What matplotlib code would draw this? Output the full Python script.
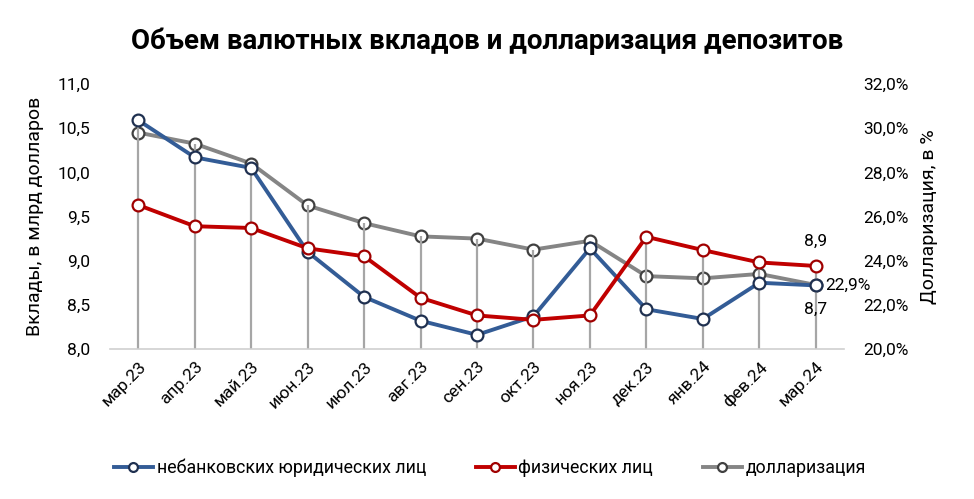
import numpy as np
import matplotlib.pyplot as plt
from matplotlib.ticker import FuncFormatter

plt.rcParams['font.family'] = ['Roboto', 'DejaVu Sans']

months = ['мар.23', 'апр.23', 'май.23', 'июн.23', 'июл.23', 'авг.23', 'сен.23',
          'окт.23', 'ноя.23', 'дек.23', 'янв.24', 'фев.24', 'мар.24']
legal = [10.59, 10.17, 10.05, 9.10, 8.59, 8.32, 8.16, 8.37, 9.14, 8.45, 8.34, 8.75, 8.72]
individ = [9.63, 9.39, 9.37, 9.14, 9.05, 8.58, 8.38, 8.33, 8.38, 9.27, 9.12, 8.98, 8.94]
dollar = [29.8, 29.3, 28.4, 26.5, 25.7, 25.1, 25.0, 24.5, 24.9, 23.3, 23.2, 23.4, 22.9]

colorLegal = '#335C96'
colorIndivid = '#C00000'
colorDollar = '#858585'

fig = plt.figure(figsize=(9.74, 4.99), dpi=100)
ax = fig.add_axes([110/974, 1-349/499, (844-110)/974, (349-84)/499])
ax2 = ax.twinx()

x = np.arange(len(months))
ax.set_xlim(-0.5, len(months) - 0.5)
ax.set_ylim(8.0, 11.0)
ax2.set_ylim(20.0, 32.0)

# drop lines from the top point of every month down to the axis
dollarOnLeft = [8.0 + (d - 20.0) / 12.0 * 3.0 for d in dollar]
tops = [max(a, b, c) for a, b, c in zip(legal, individ, dollarOnLeft)]
ax.vlines(x, 8.0, tops, color='#A6A6A6', lw=1.6, zorder=1)

mk = dict(marker='o', markersize=8.5, markerfacecolor='white', markeredgewidth=1.6)
ax.plot(x, legal, color=colorLegal, lw=2.8, markeredgecolor='#1F3050', zorder=3,
        label='небанковских юридических лиц', **mk)
ax.plot(x, individ, color=colorIndivid, lw=2.8, markeredgecolor='#A00000', zorder=3,
        label='физических лиц', **mk)
ax2.plot(x, dollar, color=colorDollar, lw=2.8, markeredgecolor='#404040', zorder=3,
         label='долларизация', **mk)

ax.set_zorder(ax2.get_zorder() + 1)
ax.patch.set_visible(False)

comma = lambda v, p: f'{v:.1f}'.replace('.', ',')
ax.yaxis.set_major_formatter(FuncFormatter(comma))
ax2.yaxis.set_major_formatter(FuncFormatter(lambda v, p: f'{v:.1f}%'.replace('.', ',')))
ax.set_yticks(np.arange(8.0, 11.01, 0.5))
ax2.set_yticks(np.arange(20.0, 32.01, 2.0))

for a in (ax, ax2):
    for s in a.spines.values():
        s.set_visible(False)
    a.tick_params(length=0, labelsize=12.5)
ax.spines['bottom'].set_visible(True)
ax.spines['bottom'].set_color('#D0D0D0')
ax.spines['bottom'].set_linewidth(1.2)
ax.tick_params(axis='y', pad=14)
ax2.tick_params(axis='y', pad=14)

ax.set_xticks(x)
ax.set_xticklabels(months, rotation=45, ha='right', rotation_mode='anchor', fontsize=12.5)
ax.tick_params(axis='x', pad=7)

ax.set_ylabel('Вклады, в млрд долларов', fontsize=14, labelpad=10)
ax2.set_ylabel('Долларизация, в %', fontsize=14, labelpad=8)

# labels on the last point
ax.annotate(comma(individ[-1], 0), (x[-1], individ[-1]), xytext=(0, 12),
            textcoords='offset points', ha='center', va='bottom', fontsize=12.5)
ax.annotate(comma(legal[-1], 0), (x[-1], legal[-1]), xytext=(0, -12),
            textcoords='offset points', ha='center', va='top', fontsize=12.5)
ax2.annotate(f'{dollar[-1]:.1f}%'.replace('.', ','), (x[-1], dollar[-1]), xytext=(7, 0),
             textcoords='offset points', ha='left', va='center', fontsize=12.5)

fig.suptitle('Объем валютных вкладов и долларизация депозитов', fontsize=20,
             fontweight='bold', y=0.945)

h1, l1 = ax.get_legend_handles_labels()
h2, l2 = ax2.get_legend_handles_labels()
for h in h1 + h2:
    pass
leg = fig.legend(h1 + h2, l1 + l2, loc='center', bbox_to_anchor=(0.503, 1-468/499), ncol=3,
                 frameon=False, fontsize=12.8, handlelength=2.2, handletextpad=0.2,
                 columnspacing=2.8, markerscale=0.75)

plt.savefig('out.png', dpi=100)
plt.close()
